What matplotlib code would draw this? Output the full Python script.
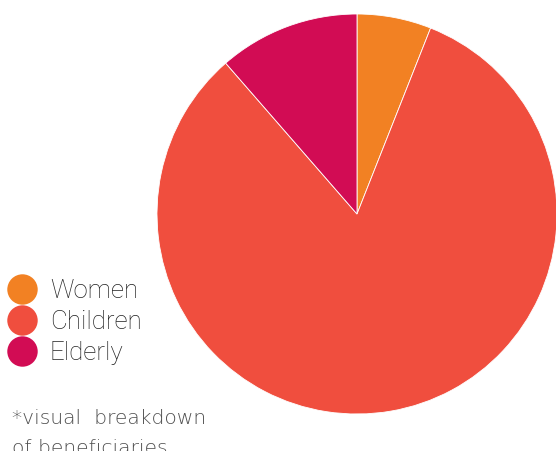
import matplotlib.pyplot as plt

groups = ["Women", "Children", "Elderly"]
shares = [6, 82.6, 11.4]
colors = ["#F28123", "#F04E3E", "#D20C54"]

fig = plt.figure(figsize=(5.56, 4.52), dpi=100)

# pie sits at the right, starting at 12 o'clock and running clockwise
ax = fig.add_axes([157 / 556, 37 / 452, 400 / 556, 400 / 452])
ax.pie(shares, colors=colors, startangle=90, counterclock=False, radius=1,
       wedgeprops=dict(linewidth=0.6, edgecolor="white"))
ax.set_xlim(-1, 1)
ax.set_ylim(-1, 1)
ax.set_aspect("equal")
ax.axis("off")

# legend drawn by hand in pixel space
lg = fig.add_axes([0, 0, 1, 1])
lg.set_xlim(0, 556)
lg.set_ylim(452, 0)
lg.axis("off")
for i, (g, c) in enumerate(zip(groups, colors)):
    y = 290 + i * 31
    lg.scatter(22, y, s=480, color=c, linewidths=0)
    lg.text(50, y + 1, g, fontsize=18.6, family="Roboto", fontweight="light",
            color="#222222", va="center", ha="left")

lg.text(12, 424, "*visual  breakdown", fontsize=14.6, family="DejaVu Sans",
        fontweight="light", color="#505050", va="baseline", ha="left")
lg.text(12, 454, "of beneficiaries", fontsize=14.6, family="DejaVu Sans",
        fontweight="light", color="#505050", va="baseline", ha="left")

fig.savefig("out.png", dpi=100)
